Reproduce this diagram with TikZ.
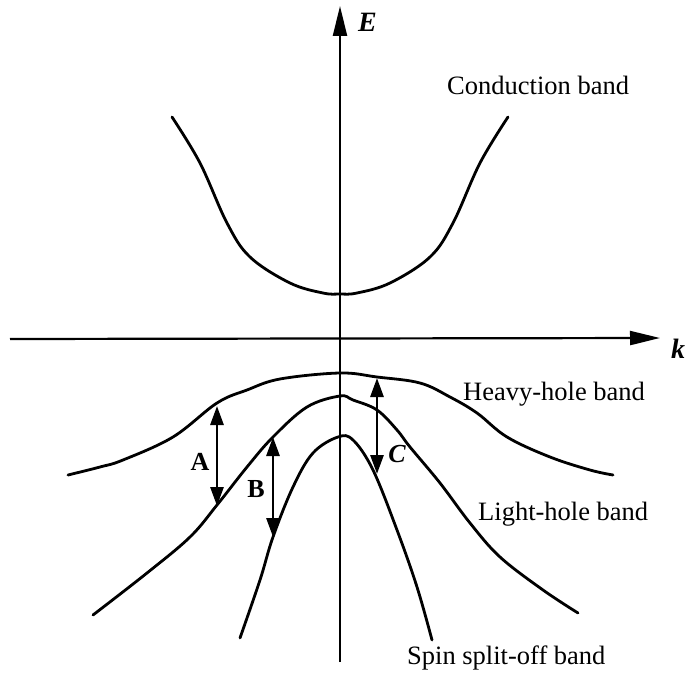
\documentclass[tikz,border=0pt]{standalone}
\usepackage{fontspec}
\setmainfont{Liberation Serif}
\usetikzlibrary{arrows.meta}
\begin{document}
\begin{tikzpicture}[x=1pt,y=-1pt,
  band/.style={line width=2.8pt, line join=round, line cap=round},
  axisline/.style={line width=2.2pt, -{Triangle[length=30pt,width=14pt]}},
  trans/.style={line width=2.8pt, {Triangle[length=19pt,width=13pt]}-{Triangle[length=19pt,width=13pt]}},
  lbl/.style={font=\fontsize{26.5}{30}\selectfont, anchor=base west, inner sep=0pt},
  letter/.style={font=\fontsize{26}{30}\selectfont\bfseries, anchor=base, inner sep=0pt},
  axlbl/.style={font=\fontsize{28}{30}\selectfont\bfseries\itshape, anchor=base west, inner sep=0pt}
]
\useasboundingbox (0,0) rectangle (689,674);

% axes
\coordinate (eb) at (340,662);
\coordinate (et) at (340,6);
\coordinate (kl) at (10,339);
\coordinate (kr) at (660,338);
\draw[axisline] (eb) -- (et);
\draw[axisline] (kl) -- (kr);
\node[axlbl] (E) at (358,32) {E};
\node[axlbl] (k) at (671,358) {k};

% conduction band
\draw[band] plot[smooth, tension=0.6] coordinates {(172,117) (200,163) (227,223) (250,257) (290,283) (323,293) (340,294) (357,293) (390,283) (430,257) (453,223) (480,163) (508,117)};

% heavy-hole band
\draw[band] plot[smooth, tension=0.6] coordinates {(68,475) (100,467) (123,460) (173,437) (217,403) (247,390) (280,379) (340,373) (377,377) (420,383) (450,397) (477,413) (507,437) (550,457) (590,470) (613,475)};

% light-hole band
\draw[band] plot[smooth, tension=0.6] coordinates {(93,615) (147,573) (190,537) (217,505) (247,467) (273,437) (307,407) (340,396) (353,400) (377,410) (397,430) (410,447) (440,483) (470,523) (500,557) (543,590) (578,613)};

% spin split-off band
\draw[band] plot[smooth, tension=0.6] coordinates {(240,638) (260,580) (273,537) (293,487) (313,453) (338,437) (353,440) (373,470) (397,530) (417,587) (432,640)};

% transitions
\coordinate (a1) at (217,406);
\coordinate (a2) at (217,506);
\coordinate (b1) at (273,437);
\coordinate (b2) at (273,537);
\coordinate (c1) at (377,378);
\coordinate (c2) at (377,474);
\draw[trans] (a1) -- (a2);
\draw[trans] (b1) -- (b2);
\draw[trans] (c1) -- (c2);
\node[letter] (A) at (200,470) {A};
\node[letter] (B) at (256,497) {B};
\node[letter, font=\fontsize{26}{30}\selectfont\bfseries\itshape] (C) at (397,462) {C};

% band labels
\node[lbl] (cb) at (447,95) {Conduction band};
\node[lbl] (hh) at (463,400) {Heavy-hole band};
\node[lbl] (lh) at (478,520) {Light-hole band};
\node[lbl] (so) at (407,664) {Spin split-off band};
\end{tikzpicture}
\end{document}
